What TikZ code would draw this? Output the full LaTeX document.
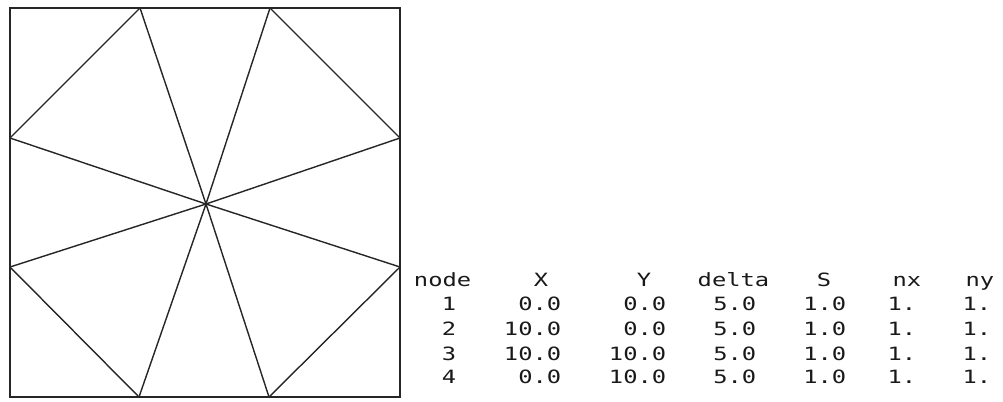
\documentclass[tikz,border=0pt]{standalone}
\usepackage{fontspec}
\newfontfamily\tabfont[FakeStretch=1.3]{DejaVu Sans Mono}
\usetikzlibrary{positioning}

\begin{document}
\begin{tikzpicture}[
  x=0.025cm, y=-0.025cm,
  edge/.style={line width=1pt, black!85},
  cell/.style={
    anchor=base east, inner sep=0pt,
    font=\tabfont\fontsize{13}{15}\selectfont, text=black!90,
  },
]
\useasboundingbox (0,0) rectangle (1003,401);

% === MESH (left) ===
% corners
\coordinate (nw) at (10,8);
\coordinate (ne) at (400,8);
\coordinate (se) at (400,397);
\coordinate (sw) at (10,397);
% points on the sides
\coordinate (top1) at (140,8);
\coordinate (top2) at (270,8);
\coordinate (left1) at (10,138);
\coordinate (left2) at (10,267);
\coordinate (right1) at (400,138);
\coordinate (right2) at (400,267);
\coordinate (bot1) at (139,397);
\coordinate (bot2) at (269,397);
% centre
\coordinate (mid) at (206,204);

\draw[edge] (nw) -- (ne) -- (se) -- (sw) -- cycle;

% spokes from the centre
\foreach \pt in {top1, top2, left1, left2, right1, right2, bot1, bot2}
  \draw[edge] (mid) -- (\pt);

% corner cuts
\draw[edge] (top1) -- (left1);
\draw[edge] (top2) -- (right1);
\draw[edge] (left2) -- (bot1);
\draw[edge] (right2) -- (bot2);

% === NODE TABLE (right) ===
\foreach \head/\hx/\nm in {node/471.5/hnode, X/548.5/hx, Y/651.5/hy,
    delta/769.5/hdelta, S/831.5/hs, nx/921.5/hnx, ny/994.5/hny}
  \node[cell] (\nm) at (\hx,286) {\head};

\foreach \row/\by/\xv/\yv in {1/310/0.0/0.0, 2/335/10.0/0.0,
    3/360/10.0/10.0, 4/383/0.0/10.0} {
  \node[cell] (n\row) at (456.5,\by) {\row};
  \node[cell] (x\row) at (561.5,\by) {\xv};
  \node[cell] (y\row) at (666.5,\by) {\yv};
  \node[cell] (d\row) at (756.5,\by) {5.0};
  \node[cell] (s\row) at (846.5,\by) {1.0};
  \node[cell] (nx\row) at (916.5,\by) {1.};
  \node[cell] (ny\row) at (991.5,\by) {1.};
}

\end{tikzpicture}
\end{document}
